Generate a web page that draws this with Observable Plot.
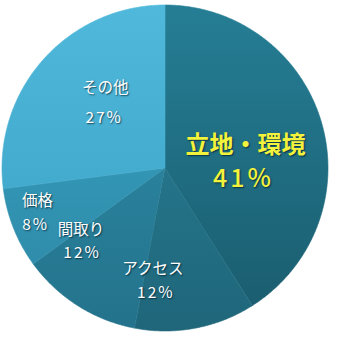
<!DOCTYPE html>
<html><head><meta charset="utf-8">
<script src="https://cdn.jsdelivr.net/npm/d3@7"></script>
<script src="https://cdn.jsdelivr.net/npm/@observablehq/plot@0.6"></script>
<style>
html,body{margin:0;padding:0;background:#fff;}
#chart text{ text-shadow: 1px 1px 1.5px rgba(0,30,45,0.75); }
</style></head><body><div id="chart"></div>
<script>
// ---- data ----
const categories = ["立地・環境", "アクセス", "間取り", "価格", "その他"];
const shares = [41, 12, 12, 8, 27];
const pctLabels = ["41%", "12%", "12%", "8%", "27%"];

// ---- layout / style (not data) ----
const W = 350, H = 340, CX = 165, CY = 168, R = 163;
const gradIds = categories.map((c, i) => `url(#g${i})`);
const gradStops = [
  ["#257e95", "#1a5b6d"],
  ["#2a8299", "#1f667a"],
  ["#2f91ad", "#24728b"],
  ["#3aa4c5", "#2c87a4"],
  ["#50b9db", "#389fc3"]
];
const labelOffsets = [ // [name dx, dy, pct dx, dy]
  [-14, 4, -16, 38],
  [-31, 4, -28, 28],
  [-32, -21, -31, 2],
  [-37, -3, -39, 21],
  [13, -16, 12, 14]
];

const arcs = d3.pie().sort(null).value(d => d.share)(
  categories.map((c, i) => ({c, share: shares[i], i})));

const pts = [];
arcs.forEach(a => {
  const n = Math.max(2, Math.ceil((a.endAngle - a.startAngle) / (Math.PI / 360)));
  for (let k = 0; k <= n; k++) {
    const t = a.startAngle + (a.endAngle - a.startAngle) * k / n;
    pts.push({c: a.data.c, x: Math.sin(t), y: Math.cos(t)});
  }
});

const labelMarks = [];
arcs.forEach((a, i) => {
  const m = (a.startAngle + a.endAngle) / 2;
  const d = {x: 0.6 * Math.sin(m), y: 0.6 * Math.cos(m), name: a.data.c, pct: pctLabels[i]};
  const big = i === 0;
  const o = labelOffsets[i];
  const common = {x: "x", y: "y", fontFamily: "'Noto Sans CJK JP', sans-serif",
    fill: big ? "#f3f23c" : "#ffffff", textAnchor: "middle", lineAnchor: "middle"};
  labelMarks.push(Plot.text([d], {...common, text: "name", dx: o[0], dy: o[1],
    fontSize: big ? 24 : 15.5, fontWeight: big ? 700 : 400}));
  labelMarks.push(Plot.text([d], {...common, text: "pct", dx: o[2], dy: o[3],
    fontSize: big ? 25 : 15.5, fontWeight: big ? 500 : 400}));
});

const svg = Plot.plot({
  width: W, height: H,
  margin: 0,
  x: {domain: [-CX / R, (W - CX) / R], axis: null},
  y: {domain: [-(H - CY) / R, CY / R], axis: null},
  color: {type: "ordinal", domain: categories, range: gradIds},
  style: {background: "#fff", overflow: "visible"},
  marks: [
    Plot.area(pts, {x1: d => 0, y1: d => 0, x2: "x", y2: "y", z: "c",
      fill: "c", stroke: "c", strokeWidth: 0.6, curve: "linear"}),
    ...labelMarks
  ]
});

const defs = d3.select(svg).insert("defs", ":first-child");
gradStops.forEach((s, i) => {
  const g = defs.append("linearGradient").attr("id", `g${i}`)
    .attr("gradientUnits", "userSpaceOnUse")
    .attr("x1", 0).attr("y1", CY - R).attr("x2", 0).attr("y2", CY + R);
  g.append("stop").attr("offset", "0%").attr("stop-color", s[0]);
  g.append("stop").attr("offset", "100%").attr("stop-color", s[1]);
});
d3.select(svg).selectAll("text").filter(function() { return /%$/.test(this.textContent); })
  .attr("letter-spacing", function() { return this.textContent === "41%" ? 3 : 2; });

document.getElementById("chart").appendChild(svg);
</script></body></html>
